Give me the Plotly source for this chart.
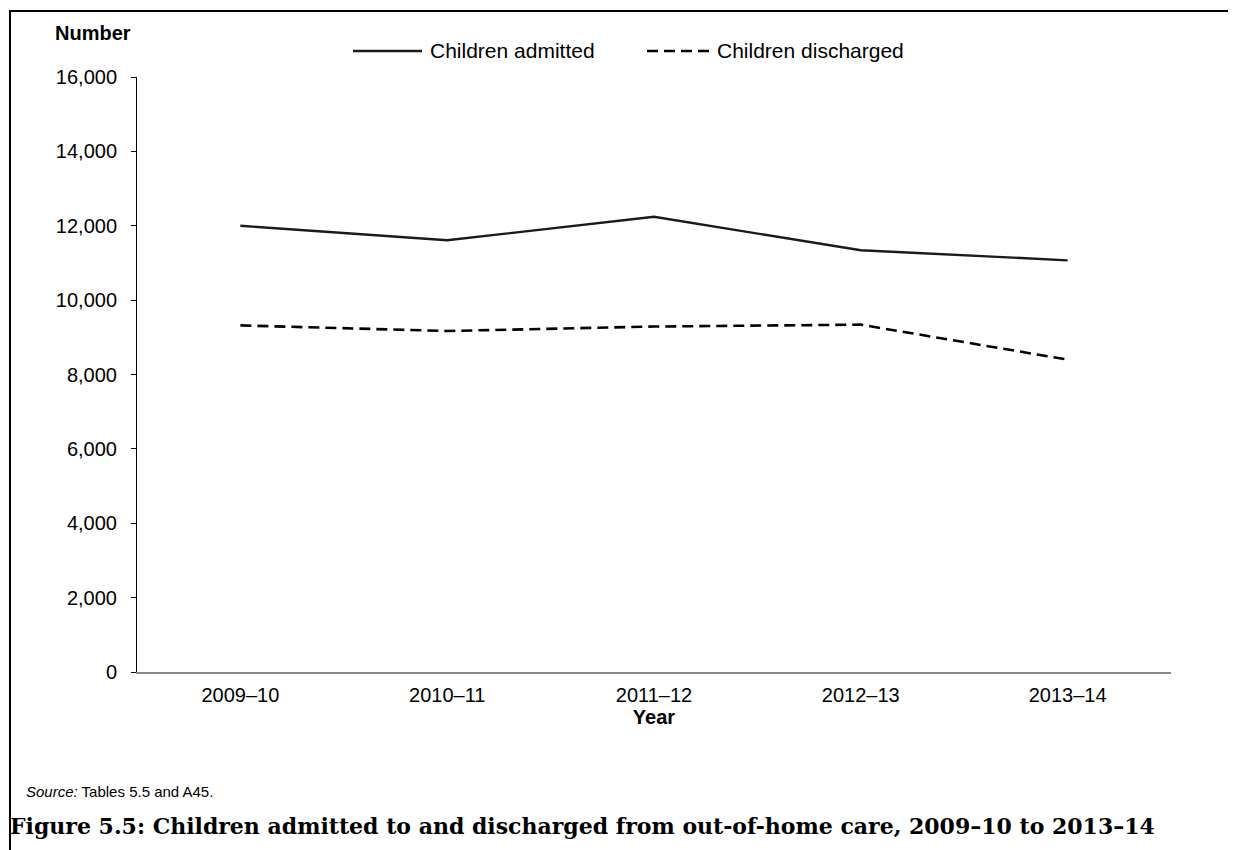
import plotly.graph_objects as go

years = ["2009–10", "2010–11", "2011–12", "2012–13", "2013–14"]
admitted = [12000, 11610, 12240, 11340, 11070]
discharged = [9320, 9170, 9290, 9340, 8400]
series_names = ["Children admitted", "Children discharged"]
y_ticks = [0, 2000, 4000, 6000, 8000, 10000, 12000, 14000, 16000]

W, H = 1236, 850
OFF = 8  # page body margin offset
L, R, T, B = 137 - OFF, 1171 - OFF, 77 - OFF, 672 - OFF


def px(x):
    """screen x (as seen in the page) -> paper x"""
    return (x - OFF - L) / (R - L)


def py(y):
    """screen y (as seen in the page) -> paper y"""
    return (B - (y - OFF)) / (B - T)


FONT = "Liberation Sans, Arial, sans-serif"

fig = go.Figure()
fig.add_trace(go.Scatter(x=list(range(len(years))), y=admitted, mode="lines",
                         name=series_names[0],
                         line=dict(color="#1a1a1a", width=2.4)))
fig.add_trace(go.Scatter(x=list(range(len(years))), y=discharged, mode="lines",
                         name=series_names[1],
                         line=dict(color="#000000", width=2.6, dash="11px,6px")))

shapes = [
    # outer frame (top and left)
    dict(type="line", xref="paper", yref="paper", x0=px(10), x1=px(1250), y0=py(11), y1=py(11),
         line=dict(color="black", width=2)),
    dict(type="line", xref="paper", yref="paper", x0=px(10), x1=px(10), y0=py(10), y1=py(870),
         line=dict(color="black", width=2)),
    # legend samples
    dict(type="line", xref="paper", yref="paper", x0=px(353), x1=px(422), y0=py(51), y1=py(51),
         line=dict(color="#1a1a1a", width=2.4)),
    dict(type="line", xref="paper", yref="paper", x0=px(647), x1=px(710), y0=py(51), y1=py(51),
         line=dict(color="black", width=2.6, dash="11px,6px")),
]

annotations = [
    dict(text="<b>Number</b>", xref="paper", yref="paper", x=px(133), y=py(33),
         xanchor="right", yanchor="middle", showarrow=False, font=dict(family=FONT, size=20, color="black")),
    dict(text=series_names[0], xref="paper", yref="paper", x=px(428), y=py(51),
         xanchor="left", yanchor="middle", showarrow=False, font=dict(family=FONT, size=21, color="black")),
    dict(text=series_names[1], xref="paper", yref="paper", x=px(715), y=py(51),
         xanchor="left", yanchor="middle", showarrow=False, font=dict(family=FONT, size=21, color="black")),
    dict(text="<i>Source:</i> Tables 5.5 and A45.", xref="paper", yref="paper", x=px(24), y=py(791),
         xanchor="left", yanchor="middle", showarrow=False, font=dict(family=FONT, size=15, color="black")),
    dict(text="<b>Figure 5.5: Children admitted to and discharged from out-of-home care, 2009–10 to 2013–14</b>",
         xref="paper", yref="paper", x=px(8), y=py(826),
         xanchor="left", yanchor="middle", showarrow=False,
         font=dict(family="DejaVu Serif, serif", size=22, color="black")),
]

fig.update_layout(
    width=W, height=H,
    margin=dict(l=L, r=W - R, t=T, b=H - B, pad=0),
    paper_bgcolor="white", plot_bgcolor="white",
    showlegend=False,
    font=dict(family=FONT, size=20, color="black"),
    shapes=shapes, annotations=annotations,
    xaxis=dict(
        range=[-0.5, len(years) - 0.5],
        tickmode="array", tickvals=list(range(len(years))), ticktext=years,
        showline=True, linecolor="#878787", linewidth=2,
        ticks="", showgrid=False, zeroline=False,
        tickfont=dict(family=FONT, size=20, color="black"),
        ticklabelstandoff=4,
        title=dict(text="<b>Year</b>", font=dict(family=FONT, size=20, color="black"), standoff=4),
    ),
    yaxis=dict(
        range=[0, 16000], tickmode="array", tickvals=y_ticks,
        tickformat=",d",
        showline=True, linecolor="black", linewidth=1,
        ticks="outside", ticklen=5, tickcolor="black", tickwidth=1,
        showgrid=False, zeroline=False,
        tickfont=dict(family=FONT, size=20, color="black"),
        ticklabelstandoff=10,
    ),
)

fig.write_html("out.html")
